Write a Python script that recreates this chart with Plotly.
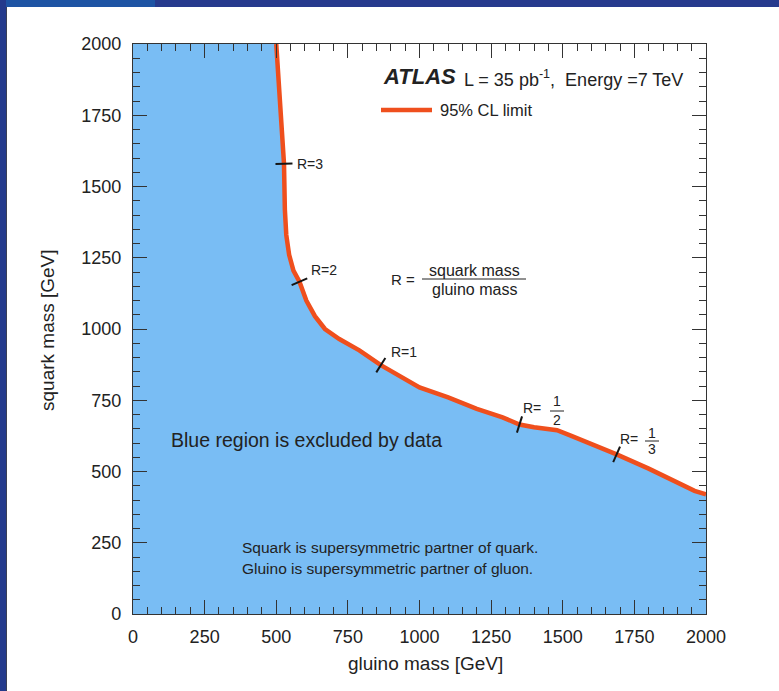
import numpy as np
import plotly.graph_objects as go

# ---------------- data ----------------
gluino_limit = [500, 510, 520, 527, 530, 535, 545, 560, 581, 605, 635, 670, 720, 790,
                865, 940, 1000, 1100, 1200, 1290, 1349, 1400, 1480, 1530, 1600, 1688,
                1800, 1900, 1960, 2000]
squark_limit = [2000, 1850, 1700, 1580, 1420, 1330, 1260, 1205, 1166, 1100, 1045, 1000,
                965, 925, 873, 830, 795, 760, 720, 690, 665, 655, 645, 625, 598, 560,
                510, 460, 432, 420]

r_names = ["R=3", "R=2", "R=1", "R=1/2", "R=1/3"]
r_gluino = [527, 581, 865, 1349, 1688]
r_squark = [1580, 1166, 873, 665, 560]

x_range = [0, 2000]
y_range = [0, 2000]
tick_vals = [0, 250, 500, 750, 1000, 1250, 1500, 1750, 2000]

# ---------------- geometry helpers ----------------
W, H = 779, 691
L, R, T, B = 133, 706, 44, 614
sx = (R - L) / (x_range[1] - x_range[0])
sy = (B - T) / (y_range[1] - y_range[0])


def px(p):
    return (p - L) / (R - L)


def py(p):
    return 1 - (p - T) / (B - T)


FONT = "Liberation Sans, Arial, Helvetica, sans-serif"
TXT = "#222222"
FILL = "#79bdf4"
LINE = "#ef4f1d"

fig = go.Figure()

# excluded region
fx = [x_range[0], x_range[0]] + gluino_limit + [x_range[1]]
fy = [y_range[0], y_range[1]] + squark_limit + [y_range[0]]
fig.add_trace(go.Scatter(x=fx, y=fy, fill="toself", fillcolor=FILL, mode="none",
                         hoverinfo="skip", showlegend=False))
# limit line
fig.add_trace(go.Scatter(x=gluino_limit, y=squark_limit, mode="lines",
                         line=dict(color=LINE, width=4.5), name="95% CL limit",
                         showlegend=False))

shapes = []
annotations = []

# background frame decorations
shapes += [
    dict(type="rect", xref="paper", yref="paper", x0=px(0), x1=px(W), y0=py(7), y1=py(0),
         fillcolor="#273a8d", line_width=0, layer="below"),
    dict(type="rect", xref="paper", yref="paper", x0=px(0), x1=px(155), y0=py(7), y1=py(0),
         fillcolor="#1e54a4", line_width=0, layer="below"),
    dict(type="rect", xref="paper", yref="paper", x0=px(0), x1=px(6), y0=py(H), y1=py(0),
         fillcolor="#243a8c", line_width=0, layer="below"),
    dict(type="rect", xref="paper", yref="paper", x0=px(6), x1=px(7), y0=py(H), y1=py(7),
         fillcolor="#3a3f55", line_width=0, layer="below"),
]

# R tick marks, perpendicular to the limit curve
g = np.array(gluino_limit, float)
s = np.array(squark_limit, float)
half = 8.5
for gx, sq in zip(r_gluino, r_squark):
    i = int(np.clip(np.searchsorted(g, gx), 1, len(g) - 2))
    dxp = (g[i + 1] - g[i - 1]) * sx
    dyp = (s[i + 1] - s[i - 1]) * sy
    n = np.hypot(dxp, dyp)
    nxp, nyp = -dyp / n, dxp / n  # perpendicular in pixel space (y up)
    shapes.append(dict(type="line", xref="x", yref="y",
                       x0=gx - nxp * half / sx, y0=sq - nyp * half / sy,
                       x1=gx + nxp * half / sx, y1=sq + nyp * half / sy,
                       line=dict(color="#151515", width=2)))


def ann(text, x, y, size, xanchor="left", yanchor="middle", xref="paper", yref="paper", **kw):
    annotations.append(dict(text=text, x=x, y=y, xref=xref, yref=yref, showarrow=False,
                            xanchor=xanchor, yanchor=yanchor,
                            font=dict(family=FONT, size=size, color=TXT), **kw))


# R labels
ann("R=3", px(295), py(164), 14)
ann("R=2", px(309), py(270), 14)
ann("R=1", px(389), py(352), 14)
ann("R=", px(521), py(408), 14)
ann("1", px(557), py(401), 14, xanchor="center")
ann("2", px(557), py(420), 14, xanchor="center")
ann("R=", px(618), py(439), 14)
ann("1", px(652), py(433), 14, xanchor="center")
ann("3", px(652), py(449), 14, xanchor="center")
shapes += [
    dict(type="line", xref="paper", yref="paper", x0=px(550), x1=px(564), y0=py(411), y1=py(411),
         line=dict(color=TXT, width=1)),
    dict(type="line", xref="paper", yref="paper", x0=px(645), x1=px(659), y0=py(441), y1=py(441),
         line=dict(color=TXT, width=1)),
]

# R definition
ann("R =", px(389), py(279), 15)
ann("squark mass", px(474), py(270), 16, xanchor="center")
ann("gluino mass", px(474), py(289), 16, xanchor="center")
shapes.append(dict(type="line", xref="paper", yref="paper", x0=px(422), x1=px(526),
                   y0=py(279), y1=py(279), line=dict(color=TXT, width=1)))

# ATLAS label + legend
ann("<b><i>ATLAS</i></b>", px(381), py(77), 22)
ann("L = 35 pb<sup>-1</sup>,&nbsp; Energy =7 TeV", px(462), py(79), 18)
shapes.append(dict(type="line", xref="paper", yref="paper", x0=px(381), x1=px(432),
                   y0=py(110), y1=py(110), line=dict(color=LINE, width=4.5)))
ann("95% CL limit", px(438), py(110), 16.5)

# region texts
ann("Blue region is excluded by data", px(169), py(440), 19.5)
ann("Squark is supersymmetric partner of quark.", px(240), py(547), 15.5)
ann("Gluino is supersymmetric partner of gluon.", px(240), py(568), 15.5)

# axis titles
ann("gluino mass [GeV]", px(425), py(663), 19, xanchor="center")
ann("squark mass [GeV]", px(47), py(330), 19, xanchor="center", textangle=-90)

axis_common = dict(
    tickvals=tick_vals, ticks="inside", ticklen=14, tickwidth=1.2, tickcolor="#333333",
    showline=True, linecolor="#333333", linewidth=1.2, mirror="ticks",
    showgrid=False, zeroline=False,
    minor=dict(dtick=50, ticks="inside", ticklen=7, tickwidth=1.2, tickcolor="#333333",
               showgrid=False),
    tickfont=dict(family=FONT, size=18, color=TXT),
)

fig.update_layout(
    width=W, height=H,
    margin=dict(l=L, r=W - R, t=T, b=H - B, pad=0),
    paper_bgcolor="white", plot_bgcolor="white",
    xaxis=dict(range=x_range, ticklabelstandoff=6, **axis_common),
    yaxis=dict(range=y_range, ticklabelstandoff=7, **axis_common),
    shapes=shapes, annotations=annotations, showlegend=False,
)

fig.write_html("out.html", config={"displayModeBar": False},
               post_script="document.body.style.margin='0px';")
